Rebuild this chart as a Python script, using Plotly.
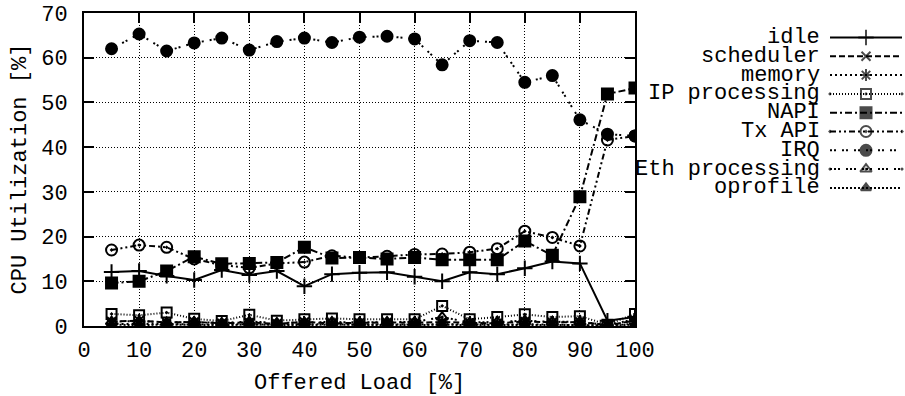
import plotly.graph_objects as go

# Offered load steps (%)
load = [5, 10, 15, 20, 25, 30, 35, 40, 45, 50, 55, 60, 65, 70, 75, 80, 85, 90, 95, 100]

# CPU utilization per component (%)
idle = [12.1, 12.3, 11.2, 10.3, 12.5, 11.4, 12.3, 8.9, 11.6, 11.9, 12.0, 11.0, 10.0, 12.0, 11.6, 12.9, 14.4, 14.0, 1.2, 2.0]
scheduler = [1.0, 1.2, 0.8, 0.9, 0.6, 0.8, 0.5, 0.9, 0.6, 0.7, 0.8, 0.7, 0.9, 0.7, 0.6, 1.0, 0.8, 0.9, 0.2, 1.2]
memory = [0.5, 0.4, 0.5, 0.3, 0.4, 0.3, 0.3, 0.4, 0.3, 0.3, 0.4, 0.3, 0.4, 0.3, 0.3, 0.4, 0.3, 0.3, 0.1, 0.5]
ip_processing = [2.7, 2.4, 3.0, 1.6, 1.1, 2.5, 1.2, 1.5, 1.7, 1.5, 1.5, 1.5, 4.5, 1.5, 2.0, 2.6, 2.0, 2.2, 0.3, 2.7]
napi = [9.6, 10.0, 12.3, 15.5, 13.9, 14.0, 14.2, 17.6, 15.2, 15.3, 15.0, 15.3, 14.8, 14.8, 14.8, 19.0, 15.8, 28.9, 51.9, 53.2]
tx_api = [17.0, 18.1, 17.6, 15.0, 13.6, 13.0, 14.0, 14.3, 15.7, 15.3, 15.6, 16.0, 16.1, 16.5, 17.3, 21.2, 19.8, 17.9, 41.6, 42.5]
irq = [62.0, 65.3, 61.5, 63.3, 64.4, 61.7, 63.6, 64.4, 63.4, 64.6, 64.8, 64.2, 58.4, 63.8, 63.4, 54.5, 56.0, 46.1, 42.9, 42.5]
eth_processing = [1.0, 1.1, 0.8, 0.9, 0.7, 1.0, 0.7, 0.8, 0.9, 0.8, 0.9, 0.9, 2.0, 0.8, 0.9, 1.2, 0.9, 1.0, 0.2, 1.5]
oprofile = [0.3, 0.2, 0.3, 0.2, 0.2, 0.3, 0.2, 0.2, 0.3, 0.2, 0.2, 0.2, 0.3, 0.2, 0.2, 0.3, 0.2, 0.2, 0.1, 0.3]

series_names = ["idle", "scheduler", "memory", "IP processing", "NAPI",
                "Tx API", "IRQ", "Eth processing", "oprofile"]
series_values = [idle, scheduler, memory, ip_processing, napi,
                 tx_api, irq, eth_processing, oprofile]

x_ticks = list(range(0, 101, 10))
y_ticks = list(range(0, 71, 10))

# gnuplot-like line/point styles
styles = [
    dict(dash="solid", symbol="cross-thin", size=11),
    dict(dash="6px,3px", symbol="x-thin", size=9),
    dict(dash="2px,3px", symbol="asterisk", size=10),
    dict(dash="1px,2px", symbol="square-open-dot", size=10),
    dict(dash="7px,3px,2px,3px", symbol="square", size=11),
    dict(dash="6px,3px,2px,3px,2px,3px", symbol="circle-open-dot", size=11),
    dict(dash="2px,2px,2px,6px", symbol="circle", size=11),
    dict(dash="2px,2px,2px,2px,2px,6px", symbol="triangle-up-open-dot", size=10),
    dict(dash="2px,2px", symbol="triangle-up", size=9),
]

W, H = 905, 396
L, R, T, B = 84, 635, 13, 326  # plot frame in pixels
FONT = "Courier New, Nimbus Mono PS, FreeMono, Liberation Mono, monospace"
FS = 22

fig = go.Figure()

for name, vals, st in zip(series_names, series_values, styles):
    fig.add_trace(go.Scatter(
        x=load, y=vals, name=name, mode="lines+markers",
        line=dict(color="black", width=2, dash=st["dash"]),
        marker=dict(symbol=st["symbol"], size=st["size"], color="black",
                    line=dict(color="black", width=2)),
        xaxis="x", yaxis="y", showlegend=False,
    ))

# key drawn on a pixel-unit helper axis to the right of the frame
row0, row_step = 37.5, 18.8
for i, (name, st) in enumerate(zip(series_names, styles)):
    yy = row0 + i * row_step
    fig.add_trace(go.Scatter(
        x=[830, 866, 902], y=[yy, yy, yy], mode="lines+markers",
        line=dict(color="black", width=2, dash=st["dash"]),
        marker=dict(symbol=st["symbol"], size=[0, st["size"], 0], color="black",
                    line=dict(color="black", width=2)),
        xaxis="x2", yaxis="y2", showlegend=False, hoverinfo="skip",
        cliponaxis=False,
    ))
    fig.add_annotation(x=822, y=yy, xref="x2", yref="y2", text=name,
                       showarrow=False, xanchor="right", yanchor="middle",
                       font=dict(family=FONT, size=FS, color="black"))

axis_common = dict(
    showline=True, linecolor="black", linewidth=2, mirror="ticks",
    ticks="inside", ticklen=10, tickwidth=1.5, tickcolor="black",
    showgrid=True, gridcolor="black", gridwidth=1, griddash="1px,2px",
    zeroline=False, automargin=False,
    tickfont=dict(family=FONT, size=FS, color="black"),
)

fig.update_layout(
    template="none",
    width=W, height=H,
    margin=dict(l=0, r=0, t=0, b=0, pad=0, autoexpand=False),
    paper_bgcolor="white", plot_bgcolor="rgba(0,0,0,0)",
    xaxis=dict(domain=[L / W, R / W], range=[0, 100], tickvals=x_ticks,
               anchor="y", ticklabelstandoff=3, **axis_common),
    yaxis=dict(domain=[1 - B / H, 1 - T / H], range=[0, 70], tickvals=y_ticks,
               anchor="x", ticklabelstandoff=10, **axis_common),
    xaxis2=dict(domain=[0, 1], range=[0, W], visible=False, anchor="y2",
                fixedrange=True, automargin=False),
    yaxis2=dict(domain=[0, 1], range=[H, 0], visible=False, anchor="x2",
                fixedrange=True, automargin=False),
    showlegend=False,
)

# axis titles
fig.add_annotation(x=(L + R) / 2, y=383, xref="x2", yref="y2",
                   text="Offered Load [%]", showarrow=False,
                   xanchor="center", yanchor="middle",
                   font=dict(family=FONT, size=FS, color="black"))
fig.add_annotation(x=20, y=(T + B) / 2, xref="x2", yref="y2",
                   text="CPU Utilization [%]", showarrow=False, textangle=-90,
                   xanchor="center", yanchor="middle",
                   font=dict(family=FONT, size=FS, color="black"))

fig.write_html("out.html")
